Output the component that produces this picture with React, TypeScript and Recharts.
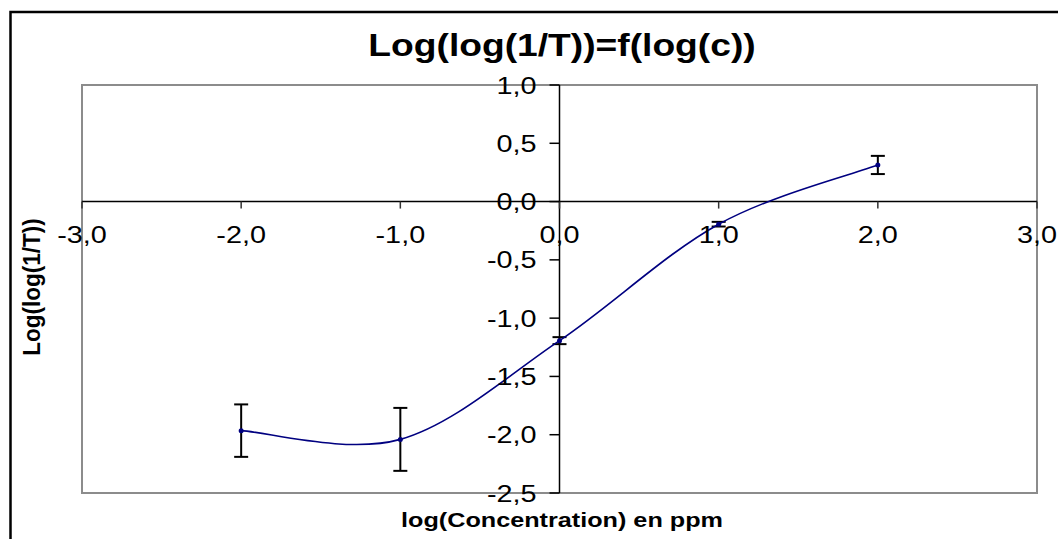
import React from 'react';
import { LineChart, Line, XAxis, YAxis, ErrorBar, ReferenceLine, ReferenceArea, ReferenceDot } from 'recharts';

const xValues = [-2, -1, 0, 1, 2];
const yValues = [-1.965, -2.04, -1.193, -0.194, 0.314];
const yErrors = [0.225, 0.27, 0.03, 0.02, 0.078];
const xTicks = [-3, -2, -1, 0, 1, 2, 3];
const yTicks = [1, 0.5, 0, -0.5, -1, -1.5, -2, -2.5];
const chartTitle = 'Log(log(1/T))=f(log(c))';
const xTitle = 'log(Concentration) en ppm';
const yTitle = 'Log(log(1/T))';

const data = xValues.map((x, i) => ({ x, y: yValues[i], err: yErrors[i] }));

const fmt = (v: number) => v.toFixed(1).replace('.', ',');
const FONT = '"Liberation Sans", Arial, sans-serif';
const SX = 1.2;

// Excel-like smoothed line (Catmull-Rom through points)
const excelSmooth = (context: any) => {
  let pts: number[][] = [];
  return {
    areaStart() {},
    areaEnd() {},
    lineStart() {
      pts = [];
    },
    point(x: number, y: number) {
      pts.push([+x, +y]);
    },
    lineEnd() {
      const n = pts.length;
      if (!n) return;
      context.moveTo(pts[0][0], pts[0][1]);
      for (let i = 0; i < n - 1; i++) {
        const p0 = pts[i - 1] || pts[i];
        const p1 = pts[i];
        const p2 = pts[i + 1];
        const p3 = pts[i + 2] || pts[i + 1];
        context.bezierCurveTo(
          p1[0] + (p2[0] - p0[0]) / 6,
          p1[1] + (p2[1] - p0[1]) / 6,
          p2[0] - (p3[0] - p1[0]) / 6,
          p2[1] - (p3[1] - p1[1]) / 6,
          p2[0],
          p2[1]
        );
      }
    },
  };
};

const StretchText = ({ x, y, anchor, size, bold, children }: any) => (
  <text
    transform={`translate(${x},${y}) scale(${SX},1)`}
    textAnchor={anchor}
    fontSize={size}
    fontWeight={bold ? 'bold' : 'normal'}
    fontFamily={FONT}
    fill="#000"
  >
    {children}
  </text>
);

const xTickShape = (t: number) => (p: any) => (
  <g>
    <line x1={p.cx} y1={p.cy} x2={p.cx} y2={p.cy + 7} stroke="#333" strokeWidth={1.5} />
    <StretchText x={p.cx} y={p.cy + 41} anchor="middle" size={24}>
      {fmt(t)}
    </StretchText>
  </g>
);

const yTickShape = (t: number) => (p: any) => (
  <g>
    <line x1={p.cx - 10} y1={p.cy} x2={p.cx} y2={p.cy} stroke="#000" strokeWidth={1.5} />
    <StretchText x={p.cx - 23} y={p.cy + 8.5} anchor="end" size={24}>
      {fmt(t)}
    </StretchText>
  </g>
);

export default function App() {
  return (
    <div style={{ position: 'absolute', left: 0, top: 0, width: 1058, height: 539, background: '#fff' }}>
      <LineChart
        width={1058}
        height={539}
        data={data}
        margin={{ top: 85, right: 21, bottom: 46, left: 82 }}
      >
        <XAxis dataKey="x" type="number" domain={[-3, 3]} ticks={xTicks} hide />
        <YAxis type="number" domain={[-2.5, 1]} ticks={yTicks} hide />
        <ReferenceArea x1={-3} x2={3} y1={-2.5} y2={1} fill="none" stroke="#8c8c8c" strokeWidth={2} />
        <ReferenceLine y={0} stroke="#000" strokeWidth={1.5} />
        <ReferenceLine x={0} stroke="#000" strokeWidth={1.5} />
        {xTicks.map((t) => (
          <ReferenceDot key={'x' + t} x={t} y={0} r={0} shape={xTickShape(t)} />
        ))}
        {yTicks.map((t) => (
          <ReferenceDot key={'y' + t} x={0} y={t} r={0} shape={yTickShape(t)} />
        ))}
        <Line
          dataKey="y"
          type={excelSmooth as any}
          stroke="#000080"
          strokeWidth={1.6}
          dot={{ r: 2.5, fill: '#000080', stroke: 'none' }}
          isAnimationActive={false}
        >
          <ErrorBar dataKey="err" width={7} stroke="#000" strokeWidth={2} direction="y" />
        </Line>
      </LineChart>
      <svg
        width={1058}
        height={539}
        style={{ position: 'absolute', left: 0, top: 0, pointerEvents: 'none' }}
      >
        <rect x={10.5} y={12} width={2000} height={2000} fill="none" stroke="#000" strokeWidth={2.5} />
        <StretchText x={562} y={56} anchor="middle" size={31} bold>
          {chartTitle}
        </StretchText>
        <StretchText x={562} y={527} anchor="middle" size={21} bold>
          {xTitle}
        </StretchText>
        <text
          transform={`translate(40,287) scale(1.1,1) rotate(-90)`}
          textAnchor="middle"
          fontSize={22.5}
          fontWeight="bold"
          fontFamily={FONT}
          fill="#000"
        >
          {yTitle}
        </text>
      </svg>
    </div>
  );
}
